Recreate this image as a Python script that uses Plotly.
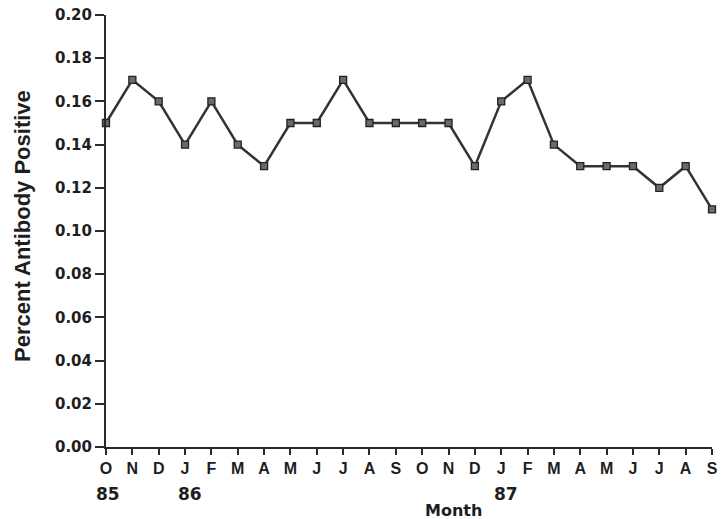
import plotly.graph_objects as go

months = ["O","N","D","J","F","M","A","M","J","J","A","S",
          "O","N","D","J","F","M","A","M","J","J","A","S"]
values = [0.15,0.17,0.16,0.14,0.16,0.14,0.13,0.15,0.15,0.17,0.15,0.15,
          0.15,0.15,0.13,0.16,0.17,0.14,0.13,0.13,0.13,0.12,0.13,0.11]
year_pos = [0, 3, 15]
year_labels = ["85", "86", "87"]
y_ticks = [0.00,0.02,0.04,0.06,0.08,0.10,0.12,0.14,0.16,0.18,0.20]

x = list(range(len(months)))
LIB = "Liberation Sans, Arial, sans-serif"
DJV = "DejaVu Sans, Verdana, sans-serif"
AX = "#2a2a2a"
TXT = "#1e1e1e"

fig = go.Figure()
fig.add_trace(go.Scatter(
    x=x, y=values, mode="lines+markers",
    line=dict(color="#333333", width=2.5),
    marker=dict(symbol="square", size=7, color="#6a6a6a",
                line=dict(color="#222222", width=1.3)),
    showlegend=False, cliponaxis=False))

for p, t in zip(year_pos, year_labels):
    fig.add_annotation(x=p, y=0, xref="x", yref="paper", text="<b>%s</b>" % t,
                       showarrow=False, yanchor="middle", xanchor="center",
                       yshift=-47, xshift=2 if p == 0 else 5,
                       font=dict(size=17, color=TXT, family=DJV))
fig.add_annotation(x=13, y=0, xref="x", yref="paper", text="<b>Month</b>",
                   showarrow=False, yanchor="middle", xanchor="center", yshift=-63, xshift=5,
                   font=dict(size=16, color=TXT, family=DJV))

fig.update_layout(
    width=724, height=519,
    margin=dict(l=106, r=6, t=15, b=72),
    paper_bgcolor="white", plot_bgcolor="white",
    font=dict(family=LIB, color=TXT),
    xaxis=dict(range=[0, 23], tickmode="array", tickvals=x,
               ticktext=["<b>%s</b>" % m for m in months],
               showgrid=False, zeroline=False, showline=True, linecolor=AX, linewidth=2,
               ticks="outside", ticklen=6, tickwidth=1.5, tickcolor=AX,
               tickfont=dict(size=16, family=LIB, color=TXT)),
    yaxis=dict(range=[0, 0.20], tickmode="array", tickvals=y_ticks,
               ticktext=["<b>%.2f</b>" % v for v in y_ticks],
               showgrid=False, zeroline=False, showline=True, linecolor=AX, linewidth=2,
               ticks="outside", ticklen=9, tickwidth=1.5, tickcolor=AX,
               tickfont=dict(size=15, family=DJV, color=TXT)),
)
fig.add_annotation(x=0, y=0.5, xref="paper", yref="paper", xanchor="center", yanchor="middle",
                   xshift=-84, yshift=5, textangle=-90, showarrow=False,
                   text="<b>Percent Antibody Positive</b>",
                   font=dict(size=22, family=LIB, color=TXT))

fig.write_html("out.html", config={"displayModeBar": False},
               post_script="document.body.style.margin='0';document.body.style.overflow='hidden';")
